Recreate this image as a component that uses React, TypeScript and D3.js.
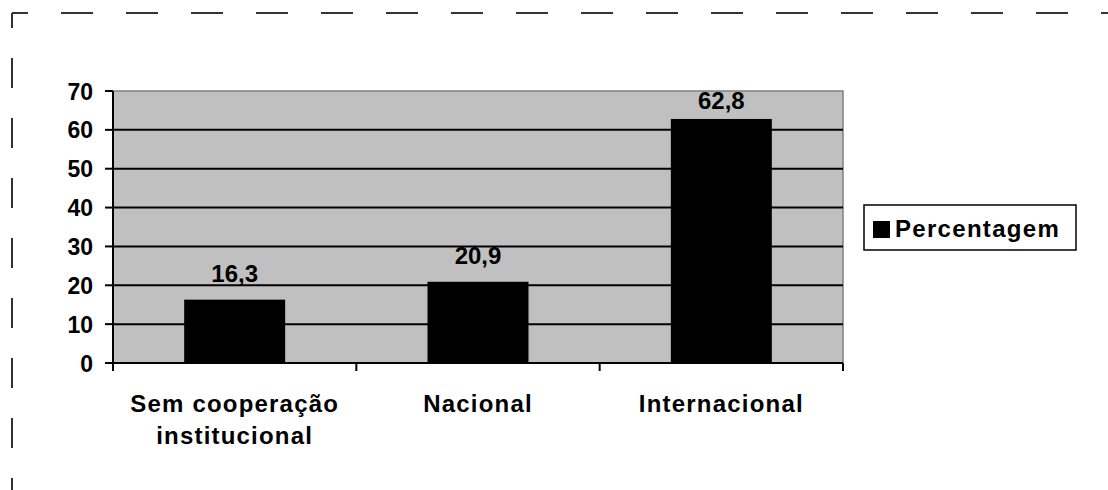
import React from "react";
import * as d3 from "d3";

const categories: string[][] = [
  ["Sem cooperação", "institucional"],
  ["Nacional"],
  ["Internacional"],
];
const values: number[] = [16.3, 20.9, 62.8];
const valueLabels: string[] = ["16,3", "20,9", "62,8"];
const yTicks: number[] = [0, 10, 20, 30, 40, 50, 60, 70];
const seriesName = "Percentagem";

const W = 1108;
const H = 490;
const plot = { left: 113, right: 843, top: 91, bottom: 363 };
const FONT = "'Liberation Sans', Arial, sans-serif";
const FS = 24;

export default function App() {
  const x = d3
    .scaleBand<number>()
    .domain(categories.map((_, i) => i))
    .range([plot.left, plot.right])
    .paddingInner(0.585)
    .paddingOuter(0.2925);
  const y = d3.scaleLinear().domain([0, 70]).range([plot.bottom, plot.top]);
  const cat = d3
    .scaleBand<number>()
    .domain(categories.map((_, i) => i))
    .range([plot.left, plot.right]);
  const boundaries = d3.range(categories.length + 1).map(
    (i) => plot.left + i * cat.step()
  );

  return (
    <svg
      width={W}
      height={H}
      style={{ position: "absolute", left: 0, top: 0, background: "#fff" }}
      fontFamily={FONT}
      fontWeight="bold"
    >
      {/* dashed frame (top and left edges) */}
      <line x1={12} y1={13} x2={W} y2={13} stroke="#333" strokeWidth={2}
        strokeDasharray="32 33" strokeDashoffset={16} />
      <line x1={12} y1={13} x2={12} y2={H} stroke="#333" strokeWidth={2}
        strokeDasharray="30 30" strokeDashoffset={15} />

      {/* plot area */}
      <rect x={plot.left} y={plot.top} width={plot.right - plot.left}
        height={plot.bottom - plot.top} fill="#c0c0c0" stroke="#808080" strokeWidth={1.5} />

      {/* gridlines */}
      {yTicks.filter((t) => t > 0 && t < 70).map((t) => (
        <line key={`g${t}`} x1={plot.left} x2={plot.right} y1={y(t)} y2={y(t)}
          stroke="#000" strokeWidth={2} />
      ))}

      {/* bars */}
      {values.map((v, i) => (
        <rect key={`b${i}`} x={x(i)} y={y(v)} width={x.bandwidth()}
          height={y(0) - y(v)} fill="#000" />
      ))}

      {/* value labels, kept inside the plot area */}
      {values.map((v, i) => (
        <text key={`v${i}`} x={(x(i) as number) + x.bandwidth() / 2}
          y={Math.max(y(v) - 18, plot.top + 18)} textAnchor="middle" fontSize={FS}
          fill="#000">
          {valueLabels[i]}
        </text>
      ))}

      {/* y axis */}
      <line x1={plot.left} x2={plot.left} y1={plot.top} y2={plot.bottom + 8}
        stroke="#000" strokeWidth={2} />
      {yTicks.map((t) => (
        <g key={`t${t}`}>
          <line x1={plot.left - 8} x2={plot.left} y1={y(t)} y2={y(t)}
            stroke="#000" strokeWidth={2} />
          <text x={93} y={y(t) + 8.5} textAnchor="end" fontSize={FS - 1} fill="#000">
            {t}
          </text>
        </g>
      ))}

      {/* x axis */}
      <line x1={plot.left} x2={plot.right} y1={plot.bottom} y2={plot.bottom}
        stroke="#000" strokeWidth={2} />
      {boundaries.map((b, i) => (
        <line key={`xt${i}`} x1={b} x2={b} y1={plot.bottom} y2={plot.bottom + 8}
          stroke="#000" strokeWidth={2} />
      ))}
      {categories.map((lines, i) => (
        <text key={`c${i}`} x={(cat(i) as number) + cat.bandwidth() / 2}
          textAnchor="middle" fontSize={FS} letterSpacing={1.2} fill="#000">
          {lines.map((l, j) => (
            <tspan key={j} x={(cat(i) as number) + cat.bandwidth() / 2} y={412 + j * 32}>
              {l}
            </tspan>
          ))}
        </text>
      ))}

      {/* legend */}
      <rect x={864} y={205} width={212} height={45} fill="#fff" stroke="#000" strokeWidth={1.5} />
      <rect x={873} y={221} width={17} height={17} fill="#000" />
      <text x={895} y={237} fontSize={FS} letterSpacing={1.3} fill="#000">
        {seriesName}
      </text>
    </svg>
  );
}
